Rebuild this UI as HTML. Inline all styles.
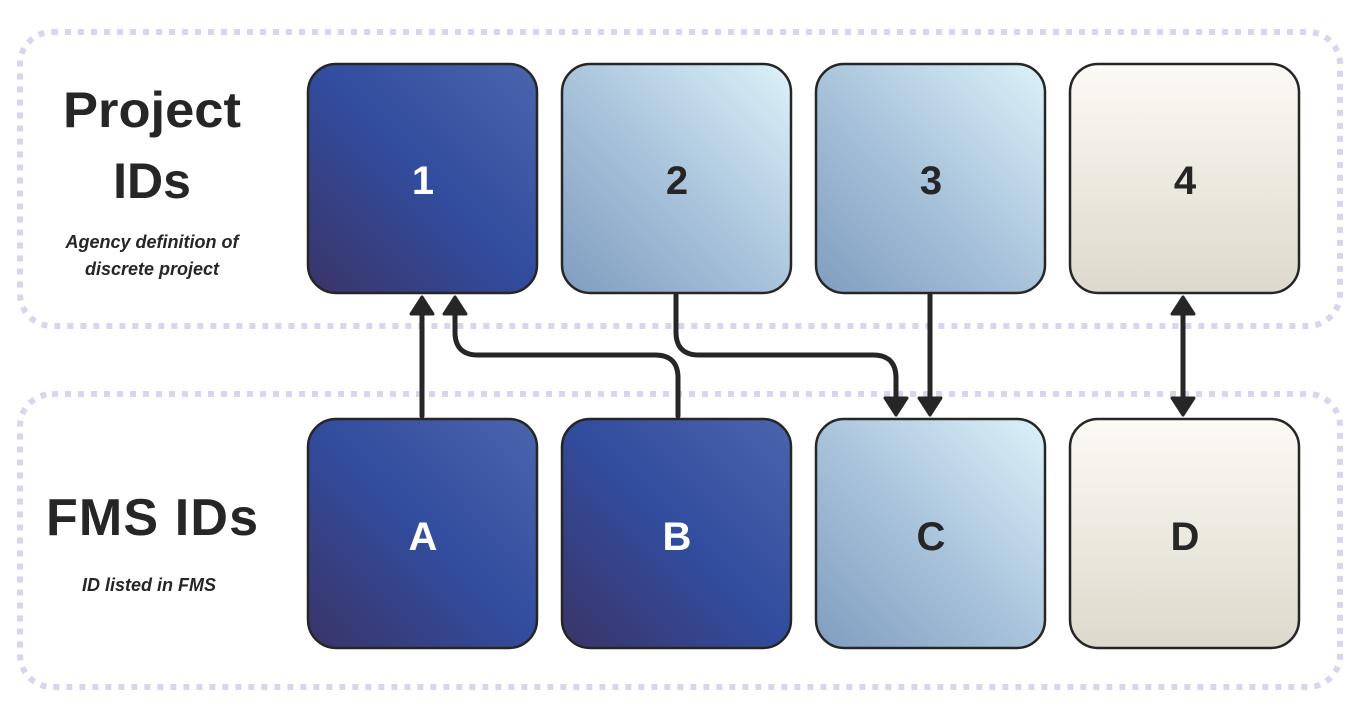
<!DOCTYPE html>
<html><head><meta charset="utf-8"><style>
html,body{margin:0;padding:0;background:#fff;}
svg{display:block;}
text{font-family:"Liberation Sans",sans-serif;fill:#262626;}
</style></head><body>
<svg width="1362" height="718" viewBox="0 0 1362 718" xmlns="http://www.w3.org/2000/svg">
<defs>
<linearGradient id="dk" x1="0" y1="1" x2="1" y2="0">
<stop offset="0" stop-color="#3a3468"/><stop offset="0.5" stop-color="#324c9e"/><stop offset="1" stop-color="#4a64ac"/>
</linearGradient>
<linearGradient id="lt" x1="0" y1="1" x2="1" y2="0">
<stop offset="0" stop-color="#809dc0"/><stop offset="0.5" stop-color="#aac4dc"/><stop offset="1" stop-color="#dcf2f9"/>
</linearGradient>
<linearGradient id="bg" x1="0" y1="0" x2="0" y2="1">
<stop offset="0" stop-color="#fcfaf4"/><stop offset="1" stop-color="#dcd9cc"/>
</linearGradient>
</defs>
<rect x="20" y="32" width="1320" height="294" rx="32" fill="none" stroke="#d6d6ee" stroke-width="6" stroke-dasharray="6 7"/>
<rect x="20" y="394" width="1320" height="293" rx="32" fill="none" stroke="#d6d6ee" stroke-width="6" stroke-dasharray="6 7"/>

<text x="152" y="127" font-size="50" font-weight="bold" text-anchor="middle" textLength="178" lengthAdjust="spacingAndGlyphs">Project</text>
<text x="152" y="198" font-size="50" font-weight="bold" text-anchor="middle">IDs</text>
<text x="152" y="248" font-size="18" font-weight="bold" font-style="italic" text-anchor="middle">Agency definition of</text>
<text x="152" y="275" font-size="18" font-weight="bold" font-style="italic" text-anchor="middle">discrete project</text>
<text x="152" y="535" font-size="52" font-weight="bold" text-anchor="middle" textLength="212">FMS IDs</text>
<text x="149" y="591" font-size="18" font-weight="bold" font-style="italic" text-anchor="middle">ID listed in FMS</text>

<g stroke="#262626" stroke-width="2.5">
<rect x="308" y="64" width="229" height="229" rx="28" fill="url(#dk)"/>
<rect x="562" y="64" width="229" height="229" rx="28" fill="url(#lt)"/>
<rect x="816" y="64" width="229" height="229" rx="28" fill="url(#lt)"/>
<rect x="1070" y="64" width="229" height="229" rx="28" fill="url(#bg)"/>
<rect x="308" y="419" width="229" height="229" rx="28" fill="url(#dk)"/>
<rect x="562" y="419" width="229" height="229" rx="28" fill="url(#dk)"/>
<rect x="816" y="419" width="229" height="229" rx="28" fill="url(#lt)"/>
<rect x="1070" y="419" width="229" height="229" rx="28" fill="url(#bg)"/>
</g>
<g font-size="40" font-weight="bold" text-anchor="middle">
<text x="423" y="194" style="fill:#fff">1</text>
<text x="677" y="194">2</text>
<text x="931" y="194">3</text>
<text x="1185" y="194">4</text>
<text x="423" y="550" style="fill:#fff">A</text>
<text x="677" y="550" style="fill:#fff">B</text>
<text x="931" y="550">C</text>
<text x="1185" y="550">D</text>
</g>

<g stroke="#262626" stroke-width="5" fill="none" stroke-linecap="round" stroke-linejoin="round">
<path d="M422,416 L422,310"/>
<path d="M678,416 L678,378 Q678,355 655,355 L478,355 Q455,355 455,332 L455,310"/>
<path d="M676,295 L676,332 Q676,355 699,355 L873,355 Q896,355 896,378 L896,400"/>
<path d="M930,295 L930,400"/>
<path d="M1183,310 L1183,400"/>
</g>
<g fill="#262626" stroke="#262626" stroke-width="3" stroke-linejoin="round">
<polygon points="422,297 411,314 433,314"/>
<polygon points="455,297 444,314 466,314"/>
<polygon points="1183,297 1172,314 1194,314"/>
<polygon points="896,415 885,398 907,398"/>
<polygon points="930,415 919,398 941,398"/>
<polygon points="1183,415 1172,398 1194,398"/>
</g>
</svg>
</body></html>
